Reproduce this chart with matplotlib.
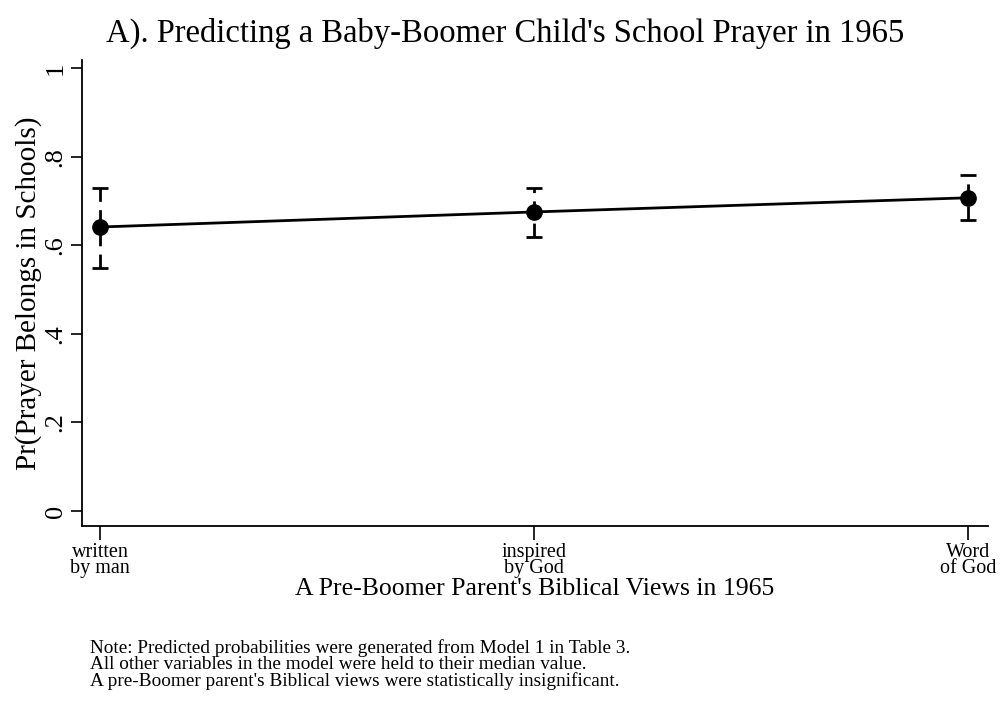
import numpy as np
import matplotlib.pyplot as plt

plt.rcParams['font.family'] = ['Liberation Serif', 'DejaVu Serif']

views = ["written\nby man", "inspired\nby God", "Word\nof God"]
prob = [0.641, 0.675, 0.707]
upper = [0.729, 0.729, 0.758]
lower = [0.549, 0.619, 0.657]

x = np.arange(1, len(views) + 1)
prob = np.array(prob)
err = [prob - np.array(lower), np.array(upper) - prob]

fig = plt.figure(figsize=(10.01, 7.02), dpi=100)
ax = fig.add_axes([0.0819, 0.2507, 0.9051, 0.6638])

eb = ax.errorbar(x, prob, yerr=err, fmt="o-", color="black", ms=11, lw=2,
                 elinewidth=2, capsize=6, capthick=2)
eb[2][0].set_linestyle((0, (5, 3)))

ax.set_xlim(0.958, 3.046)
ax.set_ylim(-0.034, 1.018)
ax.set_yticks([0, 0.2, 0.4, 0.6, 0.8, 1.0])
ax.set_yticklabels(["0", ".2", ".4", ".6", ".8", "1"], rotation=90, va="center", fontsize=19)
ax.set_xticks(x)
ax.set_xticklabels(views, fontsize=14.5, linespacing=0.82)
ax.tick_params(axis="y", length=8, width=1.2, pad=3)
ax.tick_params(axis="x", length=10, width=1.2, pad=2)
for s in ["top", "right"]:
    ax.spines[s].set_visible(False)
for s in ["left", "bottom"]:
    ax.spines[s].set_linewidth(1.3)

ax.set_ylabel("Pr(Prayer Belongs in Schools)", fontsize=21, labelpad=2)
ax.set_xlabel("A Pre-Boomer Parent's Biblical Views in 1965", fontsize=18.5, va="center")
ax.xaxis.set_label_coords(0.5, -0.136)
fig.text(0.505, 0.953, "A). Predicting a Baby-Boomer Child's School Prayer in 1965",
         ha="center", va="center", fontsize=23.5)

notes = ["Note: Predicted probabilities were generated from Model 1 in Table 3.",
         "All other variables in the model were held to their median value.",
         "A pre-Boomer parent's Biblical views were statistically insignificant."]
for i, line in enumerate(notes):
    fig.text(0.09, (702 - 648 - 16.5 * i) / 702, line, ha="left", va="center", fontsize=13.9)

fig.savefig("out.png", dpi=100)
